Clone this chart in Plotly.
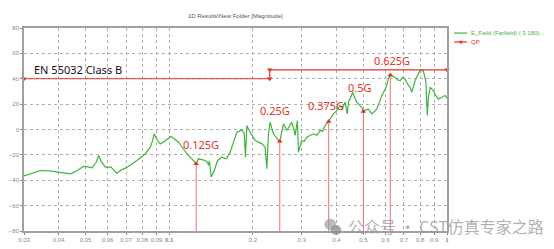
import math
import plotly.graph_objects as go

# ---------------- data ----------------
freq_ghz = [0.0300, 0.0320, 0.0344, 0.0370, 0.0394, 0.0420, 0.0441, 0.0465, 0.0492, 0.0510,
            0.0527, 0.0545, 0.0557, 0.0570, 0.0589, 0.0617, 0.0630, 0.0648, 0.0670, 0.0705,
            0.0735, 0.0765, 0.0820, 0.0855, 0.0870, 0.0883, 0.0900, 0.0928, 0.0965, 0.1000,
            0.1014, 0.1045, 0.1080, 0.1158, 0.1223, 0.1250, 0.1274, 0.1310, 0.1347, 0.1375,
            0.1385, 0.1395, 0.1416, 0.1452, 0.1493, 0.1547, 0.1603, 0.1657, 0.1700, 0.1752,
            0.1826, 0.1862, 0.1881, 0.1895, 0.1903, 0.1955, 0.2038, 0.2156, 0.2213, 0.2246,
            0.2276, 0.2308, 0.2372, 0.2472, 0.2500, 0.2540, 0.2577, 0.2650, 0.2700, 0.2761,
            0.2800, 0.2839, 0.2870, 0.2894, 0.2918, 0.2960, 0.2999, 0.3060, 0.3126, 0.3200,
            0.3304, 0.3400, 0.3493, 0.3560, 0.3641, 0.3750, 0.3899, 0.4000, 0.4121, 0.4200,
            0.4297, 0.4375, 0.4420, 0.4477, 0.4577, 0.4650, 0.4732, 0.4850, 0.4932, 0.5000,
            0.5100, 0.5210, 0.5360, 0.5500, 0.5585, 0.5700, 0.5823, 0.5950, 0.6070, 0.6150,
            0.6250, 0.6350, 0.6500, 0.6650, 0.6780, 0.6920, 0.7060, 0.7200, 0.7360, 0.7470,
            0.7570, 0.7680, 0.7850, 0.8000, 0.8220, 0.8400, 0.8490, 0.8570, 0.8690, 0.8800,
            0.8930, 0.9100, 0.9310, 0.9570, 0.9840, 1.0000]
e_field = [-36.5, -34.5, -32.3, -32.6, -33.3, -33.8, -34.9, -32.5, -29.1, -29.5,
           -30.2, -26.0, -20.5, -25.5, -29.7, -29.7, -31.5, -34.4, -32.0, -29.7,
           -27.0, -24.4, -19.1, -13.9, -9.0, -3.4, -7.5, -11.3, -9.0, -6.5,
           -5.5, -7.5, -10.0, -19.1, -24.4, -26.8, -23.1, -23.5, -24.4, -26.0,
           -28.3, -25.0, -37.5, -32.3, -24.4, -21.8, -23.1, -17.9, -10.0, -2.1,
           -0.3, -3.1, -21.8, -5.0, 3.1, -2.1, -8.7, -11.3, -13.9, -30.9,
           -3.4, 5.7, -3.4, -8.7, -9.2, -2.0, 4.5, -0.8, 2.0, 5.7,
           1.0, -4.7, 2.0, 7.1, -17.9, -12.0, -8.7, -9.5, -6.1, -5.0,
           -3.4, -4.5, -0.8, -1.5, 3.1, 6.3, 12.3, 14.5, 18.9, 17.0,
           21.5, 12.3, 22.0, 24.1, 29.4, 25.0, 21.5, 19.0, 17.5, 14.2,
           15.5, 16.0, 12.3, 14.5, 16.3, 21.0, 26.8, 30.5, 34.6, 40.0,
           43.0, 42.0, 41.2, 39.0, 38.6, 41.0, 39.9, 36.0, 33.3, 29.4,
           34.0, 38.6, 43.0, 46.4, 46.4, 37.2, 11.0, 25.0, 33.3, 32.0,
           30.7, 27.0, 24.1, 25.4, 26.8, 24.6]

qp_freq = [0.03, 0.23, 0.23, 1.0]
qp_limit = [40, 40, 47, 47]

marker_freq = [0.125, 0.25, 0.375, 0.5, 0.625]
marker_val = [-27.0, -9.3, 6.3, 14.2, 43.0]
marker_text = ["0.125G", "0.25G", "0.375G", "0.5G", "0.625G"]

x_tickvals = [0.03, 0.04, 0.05, 0.06, 0.07, 0.08, 0.09, 0.1, 0.2, 0.3, 0.4, 0.5, 0.6, 0.7, 0.8, 0.9, 1]
x_ticktext = ["0.03", "0.04", "0.05", "0.06", "0.07", "0.08", "0.09", "<b>0.1</b>", "0.2", "0.3",
              "0.4", "0.5", "0.6", "0.7", "0.8", "0.9", "<b>1</b>"]
y_tickvals = [-80, -60, -40, -20, 0, 20, 40, 60, 80]

# ---------------- styles ----------------
GREEN = "#3db53d"
RED = "#e8302c"
LRED = "#ec7272"
label_shift = [(5, 19), (-5, 31), (-3, 16.5), (-3, 23.5), (1.5, 14.5)]

fig = go.Figure()

# vertical marker lines
vx, vy = [], []
for f, v in zip(marker_freq, marker_val):
    vx += [f, f, None]
    vy += [-80, v, None]
fig.add_trace(go.Scatter(x=vx, y=vy, mode="lines", line=dict(color=LRED, width=1),
                         showlegend=False, hoverinfo="skip"))

fig.add_trace(go.Scatter(x=freq_ghz, y=e_field, mode="lines",
                         line=dict(color=GREEN, width=1.2), showlegend=False))

fig.add_trace(go.Scatter(x=qp_freq, y=qp_limit, mode="lines+markers",
                         line=dict(color=RED, width=1.2),
                         marker=dict(symbol="triangle-down", size=5, color=RED),
                         showlegend=False, cliponaxis=False))

fig.add_trace(go.Scatter(x=marker_freq, y=marker_val, mode="markers",
                         marker=dict(symbol="triangle-up", size=5, color=RED),
                         showlegend=False))

annotations = []
for f, v, t, (dx, dy) in zip(marker_freq, marker_val, marker_text, label_shift):
    annotations.append(dict(x=math.log10(f), y=v, xref="x", yref="y", text=t, showarrow=False,
                            xanchor="center", yanchor="middle",
                            xshift=dx, yshift=dy, font=dict(family="Noto Sans", size=11, color=RED)))

annotations += [
    dict(x=0.019, y=0.798, xref="paper", yref="paper", text="EN 55032 Class B", showarrow=False,
         xanchor="left", yanchor="middle", font=dict(family="Noto Sans", size=11, color="#111")),
    dict(x=0.501, y=1.059, xref="paper", yref="paper", text="1D Results\\New Folder [Magnitude]",
         showarrow=False, xanchor="center", yanchor="middle",
         font=dict(family="Liberation Sans", size=6, color="#555")),
    dict(x=1.052, y=0.975, xref="paper", yref="paper", text="E_Field (Farfield) ( 3 180)...",
         showarrow=False, xanchor="left", yanchor="middle",
         font=dict(family="Liberation Sans", size=6, color=GREEN)),
    dict(x=1.052, y=0.931, xref="paper", yref="paper", text="QP",
         showarrow=False, xanchor="left", yanchor="middle",
         font=dict(family="Liberation Sans", size=6, color=RED)),
    dict(x=1.032, y=0.931, xref="paper", yref="paper", text="▼",
         showarrow=False, xanchor="center", yanchor="middle",
         font=dict(family="DejaVu Sans", size=5, color=RED)),
    dict(x=0.761, y=0.025, xref="paper", yref="paper", text="公众号 · CST仿真专家之路",
         showarrow=False, xanchor="left", yanchor="middle",
         font=dict(family="Noto Sans CJK SC", size=16, color="rgba(150,150,150,0.75)")),
]

shapes = [
    dict(type="line", xref="paper", yref="paper", x0=1.0166, x1=1.0473, y0=0.975, y1=0.975,
         line=dict(color=GREEN, width=1.2)),
    dict(type="line", xref="paper", yref="paper", x0=1.0166, x1=1.0473, y0=0.931, y1=0.931,
         line=dict(color=RED, width=1.2)),
    dict(type="circle", xref="paper", yref="paper", x0=0.710, x1=0.738, y0=0.005, y1=0.060,
         fillcolor="rgba(160,160,160,0.7)", line=dict(width=0)),
    dict(type="circle", xref="paper", yref="paper", x0=0.725, x1=0.750, y0=-0.02, y1=0.030,
         fillcolor="rgba(140,140,140,0.75)", line=dict(width=0)),
]

fig.update_layout(
    width=554, height=249,
    margin=dict(l=24, r=107, t=28, b=18),
    paper_bgcolor="white", plot_bgcolor="white",
    showlegend=False,
    annotations=annotations, shapes=shapes,
    xaxis=dict(type="log", range=[math.log10(0.03), 0], tickvals=x_tickvals, ticktext=x_ticktext,
               tickangle=0, automargin=False,
               showgrid=True, gridcolor="#b0b0b0", griddash="dot", gridwidth=1,
               showline=True, linecolor="#a0a0a0", linewidth=1.5, mirror=True,
               ticks="outside", ticklen=2, tickcolor="#888",
               tickfont=dict(family="Liberation Sans", size=6, color="#888"), zeroline=False),
    yaxis=dict(range=[-80, 80], tickvals=y_tickvals, automargin=False,
               showgrid=True, gridcolor="#b0b0b0", griddash="dot", gridwidth=1,
               showline=True, linecolor="#a0a0a0", linewidth=1.5, mirror=True,
               ticks="outside", ticklen=2, tickcolor="#888",
               tickfont=dict(family="Liberation Sans", size=6, color="#888"), zeroline=False),
)

fig.write_html("out.html")
